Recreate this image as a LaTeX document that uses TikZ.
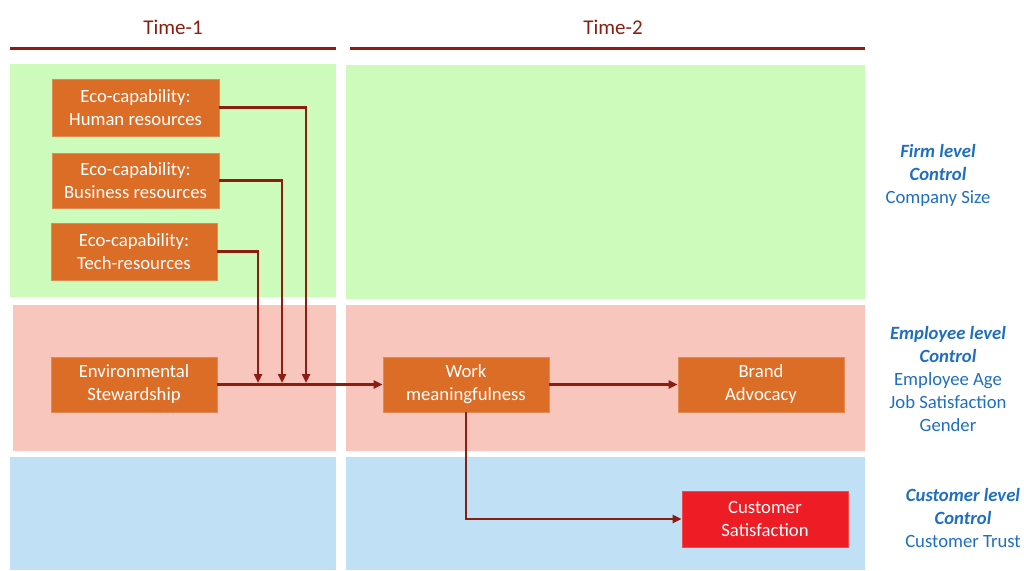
\documentclass[tikz,border=0pt]{standalone}
\usepackage{fontspec}
\setmainfont{Carlito}
\usetikzlibrary{arrows.meta}
\definecolor{panelgreen}{HTML}{CCFBBC}
\definecolor{panelpink}{HTML}{F9C6BE}
\definecolor{panelblue}{HTML}{C0E0F5}
\definecolor{boxorange}{HTML}{DC6D27}
\definecolor{boxred}{HTML}{EE1C25}
\definecolor{linkred}{HTML}{8B1E10}
\definecolor{ctrlblue}{HTML}{1F6FC0}
\tikzset{
  panel/.style={draw=none},
  varbox/.style={rectangle, fill=boxorange, draw=boxorange!80!white, line width=0.6pt,
    text=white, align=center, inner sep=0pt, minimum width=166pt, minimum height=56pt,
    font=\fontsize{18.7}{23}\selectfont},
  conn/.style={draw=linkred, line width=2.4pt, -{Triangle[length=9pt,width=8pt]}},
  header/.style={text=linkred, font=\fontsize{21}{25}\selectfont},
  headline/.style={draw=linkred, line width=3pt},
  ctrl/.style={text=ctrlblue, align=center, inner sep=0pt, font=\fontsize{18.7}{23}\selectfont}
}
\begin{document}
\begin{tikzpicture}[x=1pt, y={(0pt,-1pt)}]
\useasboundingbox (0,0) rectangle (1024,570);
\fill[white] (0,0) rectangle (1024,570);

% column headers
\node[header] (t1) at (173,27) {Time-1};
\node[header] (t2) at (613,27) {Time-2};
\draw[headline] (10,48) -- (336,48);
\draw[headline] (350,48) -- (865,48);

% level bands, one per column
\fill[panelgreen] (10,64) rectangle (336,297);
\fill[panelgreen] (346,65) rectangle (865,299);
\fill[panelpink] (13,305) rectangle (336,451);
\fill[panelpink] (346,305) rectangle (865,451);
\fill[panelblue] (10,457) rectangle (336,570);
\fill[panelblue] (346,457) rectangle (865,570);

% variables
\node[varbox, minimum width=167pt, minimum height=57pt] (hr) at (135.5,107.5) {Eco-capability:\\Human resources};
\node[varbox, minimum width=167pt, minimum height=55pt] (bus) at (135.5,180.5) {Eco-capability:\\Business resources};
\node[varbox, minimum height=57pt] (tech) at (134,251.5) {Eco-capability:\\Tech-resources};
\node[varbox, minimum height=55pt] (env) at (134,384.5) {Environmental\\Stewardship};
\node[varbox, minimum height=55pt] (work) at (466,384.5) {Work\\meaningfulness};
\node[varbox, minimum height=55pt] (brand) at (761,384.5) {Brand\\Advocacy};
\node[varbox, fill=boxred, draw=boxred!80!white] (cust) at (765,519) {Customer\\Satisfaction};

% drop points of the capability links
\coordinate (dhr) at (306,0);
\coordinate (dbus) at (282,0);
\coordinate (dtech) at (258,0);

% connectors
\draw[conn, shorten >=1.5pt] (hr.east) -| (dhr |- env.east);
\draw[conn, shorten >=1.5pt] (bus.east) -| (dbus |- env.east);
\draw[conn, shorten >=1.5pt] (tech.east) -| (dtech |- env.east);
\draw[conn] (env.east) -- (work.west);
\draw[conn] (work.east) -- (brand.west);
\draw[conn] (work.south) |- (cust.west);

% control variables
\node[ctrl] (firm) at (938,175) {\textbf{\textit{Firm level}}\\\textbf{\textit{Control}}\\Company Size};
\node[ctrl] (emp) at (948,379) {\textbf{\textit{Employee level}}\\\textbf{\textit{Control}}\\Employee Age\\Job Satisfaction\\Gender};
\node[ctrl] (cus) at (963,518) {\textbf{\textit{Customer level}}\\\textbf{\textit{Control}}\\Customer Trust};
\end{tikzpicture}
\end{document}
